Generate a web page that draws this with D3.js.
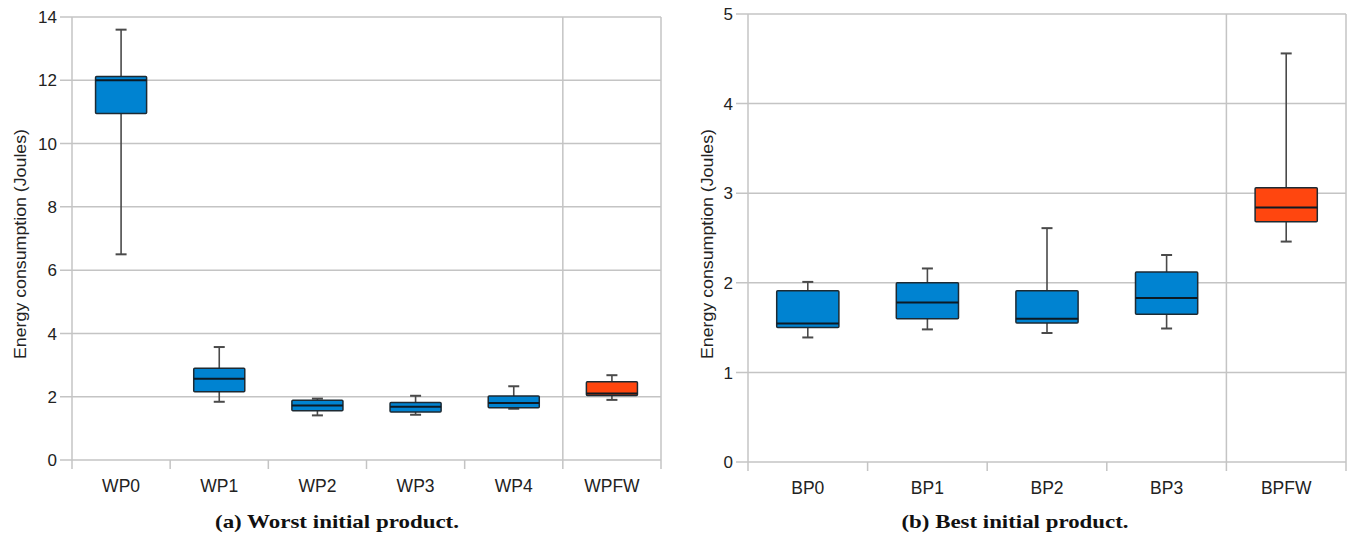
<!DOCTYPE html>
<html><head><meta charset="utf-8">
<script src="https://cdn.jsdelivr.net/npm/d3@7"></script>
<style>body{margin:0;background:#fff}svg{display:block}</style>
</head><body>
<svg id="c" width="1348" height="537"></svg>
<script>
// ---- Data ----
const leftCategories = ["WP0","WP1","WP2","WP3","WP4","WPFW"];
const leftLow    = [6.5, 1.84, 1.41, 1.43, 1.62, 1.90];
const leftQ1     = [10.95, 2.16, 1.56, 1.52, 1.65, 2.04];
const leftMedian = [12.0, 2.57, 1.72, 1.68, 1.80, 2.10];
const leftQ3     = [12.12, 2.90, 1.89, 1.82, 2.02, 2.47];
const leftHigh   = [13.6, 3.57, 1.94, 2.03, 2.33, 2.68];
const leftTicks  = [0,2,4,6,8,10,12,14];

const rightCategories = ["BP0","BP1","BP2","BP3","BPFW"];
const rightLow    = [1.39, 1.48, 1.44, 1.49, 2.46];
const rightQ1     = [1.50, 1.60, 1.55, 1.65, 2.68];
const rightMedian = [1.545, 1.78, 1.60, 1.83, 2.84];
const rightQ3     = [1.91, 2.00, 1.91, 2.12, 3.06];
const rightHigh   = [2.01, 2.16, 2.61, 2.31, 4.56];
const rightTicks  = [0,1,2,3,4,5];

const yLabel = "Energy consumption (Joules)";
const captions = ["(a) Worst initial product.", "(b) Best initial product."];

const panels = [
  {cats:leftCategories, low:leftLow, q1:leftQ1, med:leftMedian, q3:leftQ3, high:leftHigh, ticks:leftTicks,
   x0:72, x1:661, yTop:17, yBot:460, labelX:20, caption:captions[0], capX:337, capLen:244},
  {cats:rightCategories, low:rightLow, q1:rightQ1, med:rightMedian, q3:rightQ3, high:rightHigh, ticks:rightTicks,
   x0:748, x1:1346, yTop:14, yBot:462, labelX:707, caption:captions[1], capX:1015, capLen:227}
];

const svg = d3.select("#c");
const GRID = "#c4c4c4";
const BLUE = "#0083d1";
const RED = "#ff460f";
const SANS = "Liberation Sans, Arial, sans-serif";

panels.forEach(p => {
  const g = svg.append("g");
  const x = d3.scaleBand().domain(p.cats).range([p.x0, p.x1]).paddingInner(0).paddingOuter(0);
  const y = d3.scaleLinear().domain([0, d3.max(p.ticks)]).range([p.yBot, p.yTop]);

  g.selectAll("line.hg").data(p.ticks).join("line")
    .attr("x1", p.x0 - 12).attr("x2", p.x1)
    .attr("y1", d => y(d)).attr("y2", d => y(d))
    .attr("stroke", GRID).attr("stroke-width", 1.5);
  const last = p.cats[p.cats.length-1];
  [p.x0, x(last), p.x1].forEach(xx => {
    g.append("line").attr("x1", xx).attr("x2", xx).attr("y1", p.yTop).attr("y2", p.yBot)
      .attr("stroke", GRID).attr("stroke-width", 1.5);
  });
  const bounds = p.cats.map(c => x(c)).concat([p.x1]);
  g.selectAll("line.xt").data(bounds).join("line")
    .attr("x1", d => d).attr("x2", d => d).attr("y1", p.yBot).attr("y2", p.yBot + 9)
    .attr("stroke", GRID).attr("stroke-width", 1.5);

  g.selectAll("text.yt").data(p.ticks).join("text")
    .attr("x", p.x0 - 15).attr("y", d => y(d)).attr("dy", "0.36em")
    .attr("text-anchor", "end")
    .attr("font-family", SANS).attr("font-size", 17)
    .attr("fill", "#222").text(d => d);
  g.selectAll("text.xl").data(p.cats).join("text")
    .attr("x", d => x(d) + x.bandwidth()/2).attr("y", p.yBot + 32)
    .attr("text-anchor", "middle")
    .attr("font-family", SANS).attr("font-size", 17.5)
    .attr("fill", "#222").text(d => d);
  g.append("text")
    .attr("transform", `translate(${p.labelX},244) rotate(-90)`)
    .attr("text-anchor", "middle").attr("dy", "0.36em")
    .attr("font-family", SANS).attr("font-size", 16)
    .attr("textLength", 230).attr("lengthAdjust", "spacingAndGlyphs")
    .attr("fill", "#222").text(yLabel);

  const bw = x.bandwidth() * 0.52;
  const cap = 11;
  p.cats.forEach((c, i) => {
    const cx = x(c) + x.bandwidth()/2;
    const fill = (i === p.cats.length - 1) ? RED : BLUE;
    g.append("line").attr("x1", cx).attr("x2", cx).attr("y1", y(p.high[i])).attr("y2", y(p.q3[i]))
      .attr("stroke", "#4a4a4a").attr("stroke-width", 1.6);
    g.append("line").attr("x1", cx).attr("x2", cx).attr("y1", y(p.q1[i])).attr("y2", y(p.low[i]))
      .attr("stroke", "#4a4a4a").attr("stroke-width", 1.6);
    [p.high[i], p.low[i]].forEach(v => {
      g.append("line").attr("x1", cx - cap/2).attr("x2", cx + cap/2).attr("y1", y(v)).attr("y2", y(v))
        .attr("stroke", "#4a4a4a").attr("stroke-width", 2);
    });
    g.append("rect").attr("x", cx - bw/2).attr("width", bw)
      .attr("y", y(p.q3[i])).attr("height", y(p.q1[i]) - y(p.q3[i]))
      .attr("fill", fill).attr("stroke", "#1d2a33").attr("stroke-width", 1.5).attr("rx", 1);
    g.append("line").attr("x1", cx - bw/2).attr("x2", cx + bw/2).attr("y1", y(p.med[i])).attr("y2", y(p.med[i]))
      .attr("stroke", "#0d1a24").attr("stroke-width", 2);
  });

  svg.append("text").attr("x", p.capX).attr("y", 528).attr("text-anchor", "middle")
    .attr("font-family", "Liberation Serif, Times New Roman, serif").attr("font-weight", "bold")
    .attr("font-size", 19).attr("textLength", p.capLen).attr("lengthAdjust", "spacingAndGlyphs")
    .attr("fill", "#111").text(p.caption);
});
</script>
</body></html>
